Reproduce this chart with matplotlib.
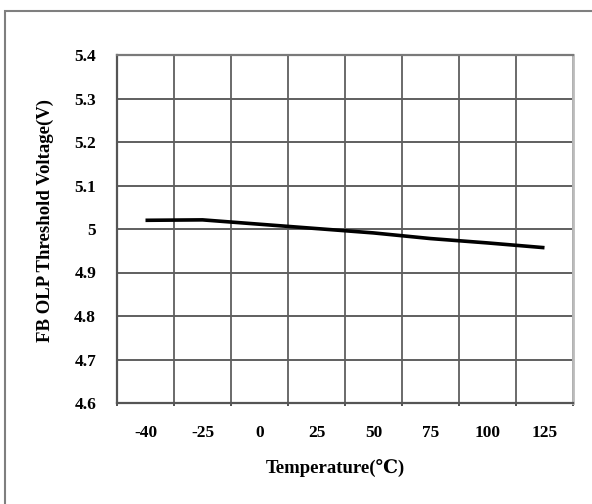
import numpy as np
import matplotlib
matplotlib.use('Agg')
import matplotlib.pyplot as plt
from matplotlib.patches import Rectangle

# FB OLP threshold voltage vs temperature
temps = ['-40', '-25', '0', '25', '50', '75', '100', '125']
vth = [5.020, 5.021, 5.011, 5.001, 4.991, 4.978, 4.968, 4.957]

y_ticks = [4.6, 4.7, 4.8, 4.9, 5.0, 5.1, 5.2, 5.3, 5.4]
y_labels = ['4.6', '4.7', '4.8', '4.9', '5', '5.1', '5.2', '5.3', '5.4']

plt.rcParams['font.family'] = ['Liberation Serif', 'DejaVu Serif']
plt.rcParams['font.weight'] = 'bold'

fig = plt.figure(figsize=(5.92, 5.04), dpi=100)
# outer chart border
fig.patches.append(Rectangle((5/592, -0.1), 1.2, 1 - 11/504 + 0.1,
                             transform=fig.transFigure, fill=False,
                             edgecolor='#7f7f7f', linewidth=1.5))

ax = fig.add_axes([117/592, 1 - 403/504, 456/592, 348/504])
x = np.arange(len(temps))
ax.plot(x, vth, color='black', linewidth=2.6, solid_capstyle='butt')

ax.set_xlim(-0.5, len(temps) - 0.5)
ax.set_ylim(4.6, 5.4)
ax.set_xticks(x)
ax.set_xticklabels(temps)
ax.set_xticks(np.arange(-0.5, len(temps)), minor=True)
ax.set_yticks(y_ticks)
ax.set_yticklabels(y_labels)

ax.grid(which='minor', axis='x', color='#6a6a6a', linewidth=1.4)
ax.grid(which='major', axis='y', color='#5f5f5f', linewidth=1.4)
ax.grid(which='major', axis='x', visible=False)
ax.set_axisbelow(True)

ax.tick_params(axis='x', which='major', length=0, pad=16, labelsize=12.5)
ax.tick_params(axis='x', which='minor', length=2, width=1.2, color='#333333')
ax.tick_params(axis='y', length=0, pad=15, labelsize=12.5)

for side in ['left', 'bottom']:
    ax.spines[side].set_color('#555555')
    ax.spines[side].set_linewidth(1.6)
ax.spines['top'].set_color('#7a7a7a')
ax.spines['top'].set_linewidth(1.6)
ax.spines['right'].set_color('#bbbbbb')
ax.spines['right'].set_linewidth(2.0)

ax.set_xlabel('Temperature(\u2103)', fontsize=13.5, fontweight='bold')
ax.xaxis.set_label_coords((335 - 117) / 456, (403 - 468) / 348)
ax.set_ylabel('FB OLP Threshold Voltage(V)', fontsize=13.5, fontweight='bold')
ax.yaxis.set_label_coords((45 - 117) / 456, (403 - 220) / 348)
ax.xaxis.label.set_verticalalignment('center')
ax.yaxis.label.set_verticalalignment('center')

fig.savefig('out.png', dpi=100)
